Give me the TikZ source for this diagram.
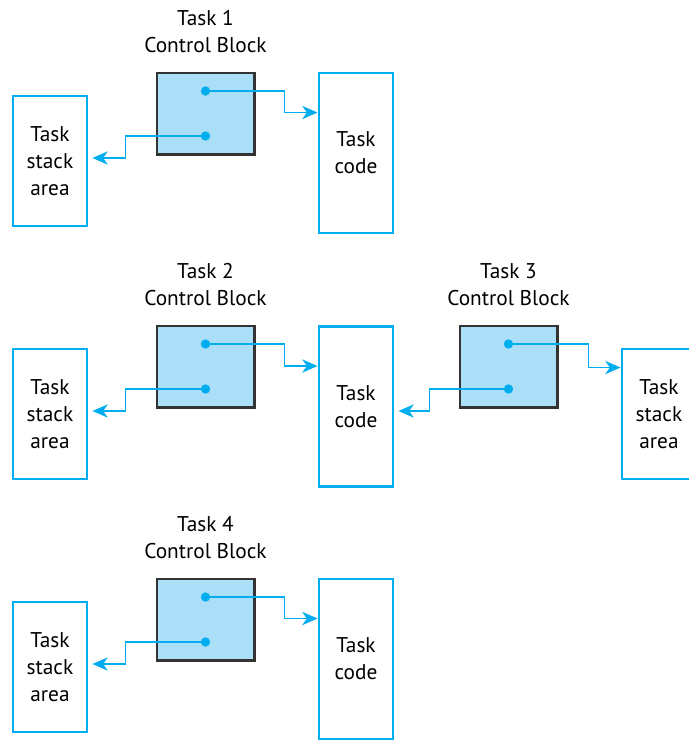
\documentclass[tikz,border=0pt]{standalone}
\usepackage{fontspec}
\setmainfont{PT Sans}
\usepackage{tikz}
\usetikzlibrary{arrows.meta,positioning,calc}
\definecolor{taskcyan}{HTML}{00AEEF}
\definecolor{blockfill}{HTML}{AADFF7}
\definecolor{blockline}{HTML}{333333}

\begin{document}
\begin{tikzpicture}[
  x=0.75pt, y=-0.75pt,
  font=\fontsize{16}{20.25}\selectfont,
  tcb/.style={draw=blockline, fill=blockfill, line width=2pt, minimum width=73pt, minimum height=61pt, inner sep=0pt},
  stackbox/.style={draw=taskcyan, line width=2.2pt, align=center, minimum width=55.5pt, minimum height=97.5pt, inner sep=0pt},
  codebox/.style={stackbox, minimum height=120pt},
  dot/.style={circle, fill=taskcyan, inner sep=0pt, minimum size=7pt},
  link/.style={draw=taskcyan, line width=1pt, -{Stealth[length=11.5pt, width=10pt, inset=3.5pt]}},
  title/.style={align=center}
]
\useasboundingbox (0,0) rectangle (689,740);
\clip (0,0) rectangle (689,740);

% control blocks
\node[tcb] (cb1) at (205.5,113.5) {};
\node[tcb] (cb2) at (205.5,366.5) {};
\node[tcb] (cb3) at (508.5,366.5) {};
\node[tcb] (cb4) at (205.5,619.5) {};
\node[title] (t1) at ($(cb1)+(0,-82)$) {Task 1\\Control Block};
\node[title] (t2) at ($(cb2)+(0,-82)$) {Task 2\\Control Block};
\node[title] (t3) at ($(cb3)+(0,-82)$) {Task 3\\Control Block};
\node[title] (t4) at ($(cb4)+(0,-82)$) {Task 4\\Control Block};

% stack areas and code
\node[stackbox] (stk1) at (50,161) {Task\\stack\\area};
\node[stackbox] (stk2) at (50,414) {Task\\stack\\area};
\node[stackbox] (stk3) at (659,414) {Task\\stack\\area};
\node[stackbox] (stk4) at (50,667) {Task\\stack\\area};
\node[codebox] (code1) at (356,153) {Task\\code};
\node[codebox] (code2) at (356,406.5) {Task\\code};
\node[codebox] (code4) at (356,659) {Task\\code};

% pointers
\foreach \b in {1,2,3,4} {
  \node[dot] (\b a) at ($(cb\b)+(0,-22.5)$) {};
  \node[dot] (\b b) at ($(cb\b)+(0,22.5)$) {};
}
\draw[link] (1a.center) -- ++(79,0) |- ($(code1.north west)+(0,41)$);
\draw[link] (1b.center) -- ++(-80,0) |- ($(stk1.east)+(4,-3)$);
\draw[link] (2a.center) -- ++(79,0) |- ($(code2.north west)+(0,41)$);
\draw[link] (2b.center) -- ++(-80,0) |- ($(stk2.east)+(4,-3)$);
\draw[link] (3a.center) -- ++(80,0) |- ($(stk3.north west)+(0,20)$);
\draw[link] (3b.center) -- ++(-79,0) |- ($(code2.east)+(4,4.5)$);
\draw[link] (4a.center) -- ++(79,0) |- ($(code4.north west)+(0,41)$);
\draw[link] (4b.center) -- ++(-80,0) |- ($(stk4.east)+(4,-3)$);
\end{tikzpicture}
\end{document}
